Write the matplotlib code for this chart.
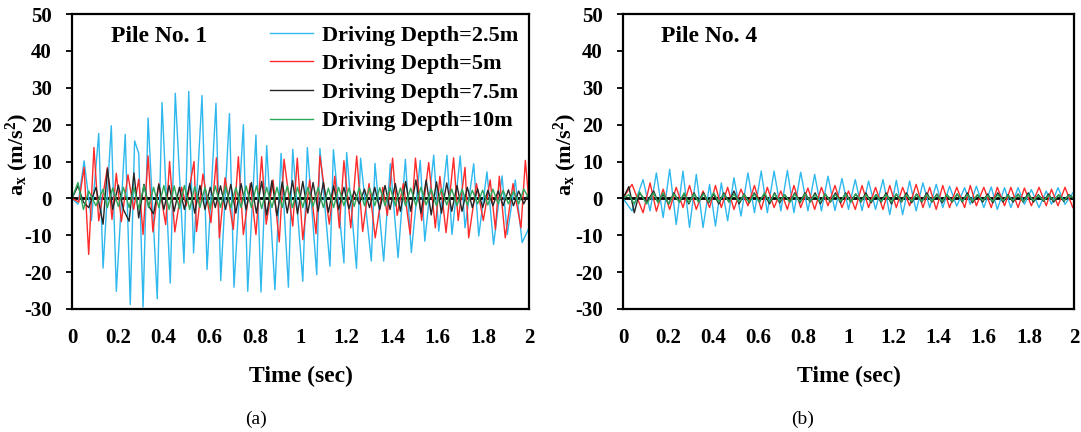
import matplotlib
matplotlib.use("Agg")
import matplotlib.pyplot as plt

# ---- data ----
legend_labels = ["Driving Depth=2.5m", "Driving Depth=5m",
                 "Driving Depth=7.5m", "Driving Depth=10m"]
x_ticks = [0, 0.2, 0.4, 0.6, 0.8, 1, 1.2, 1.4, 1.6, 1.8, 2]
x_tick_labels = ["0", "0.2", "0.4", "0.6", "0.8", "1", "1.2", "1.4", "1.6", "1.8", "2"]
y_ticks = [-30, -20, -10, 0, 10, 20, 30, 40, 50]

# Pile No. 1, 2.5 m
t1_blue = [0.000, 0.026, 0.053, 0.085, 0.117, 0.136, 0.172, 0.194, 0.233, 0.255,
           0.274, 0.292, 0.311, 0.333, 0.373, 0.394, 0.430, 0.452, 0.490, 0.511,
           0.532, 0.569, 0.591, 0.630, 0.651, 0.689, 0.709, 0.750, 0.769, 0.805,
           0.827, 0.852, 0.888, 0.915, 0.947, 0.966, 1.010, 1.030, 1.071, 1.085,
           1.129, 1.144, 1.190, 1.202, 1.245, 1.263, 1.310, 1.326, 1.364, 1.393,
           1.427, 1.459, 1.485, 1.524, 1.544, 1.583, 1.605, 1.641, 1.663, 1.699,
           1.720, 1.758, 1.780, 1.816, 1.845, 1.882, 1.905, 1.940, 1.970, 2.000]
a1_blue = [0, -1.6, 10.2, -6.0, 17.6, -18.9, 19.7, -25.2, 17.4, -28.8,
           15.6, 12.2, -29.5, 21.8, -27.2, 26.0, -23.0, 28.5, -17.5, 29.0,
           -14.8, 27.9, -19.3, 25.8, -22.3, 23.0, -24.1, 20.0, -25.2, 17.2,
           -25.4, 14.3, -24.8, 12.2, -24.1, 13.3, -22.5, 13.8, -20.7, 13.5,
           -18.4, 13.2, -17.5, 12.4, -19.0, 10.9, -17.0, 9.5, -17.0, 9.4,
           -16.1, 10.6, -14.7, 10.3, -11.6, 11.7, -8.9, 11.7, -9.8, 11.5,
           -8.0, 9.4, -10.2, 7.2, -12.5, 6.1, -9.8, 5.0, -12.0, -8.0]

# Pile No. 1, 5 m
t1_red = [0.000, 0.030, 0.053, 0.073, 0.096, 0.117, 0.155, 0.175, 0.194, 0.216,
          0.245, 0.270, 0.292, 0.311, 0.333, 0.354, 0.380, 0.410, 0.427, 0.450,
          0.480, 0.500, 0.534, 0.545, 0.573, 0.608, 0.632, 0.645, 0.670, 0.706,
          0.728, 0.750, 0.780, 0.805, 0.830, 0.850, 0.880, 0.907, 0.928, 0.966,
          0.986, 1.010, 1.040, 1.068, 1.085, 1.126, 1.150, 1.170, 1.190, 1.220,
          1.246, 1.272, 1.300, 1.327, 1.360, 1.380, 1.403, 1.423, 1.450, 1.480,
          1.503, 1.530, 1.561, 1.590, 1.610, 1.637, 1.670, 1.690, 1.720, 1.736,
          1.770, 1.800, 1.830, 1.853, 1.870, 1.896, 1.930, 1.965, 1.984, 2.000]
a1_red = [0, -1.0, 8.4, -15.2, 13.8, -6.1, 8.4, -5.7, 6.8, -6.3,
          6.4, -3.0, 5.2, -9.8, 11.5, -9.1, 4.0, -7.1, 10.0, -9.1,
          3.0, -2.0, 10.0, -9.0, 6.6, -6.6, 11.0, -10.7, 5.6, -8.4,
          11.3, -9.8, 4.0, -9.8, 11.3, -7.0, 5.0, -11.8, 10.6, -7.5,
          10.9, -11.2, 5.0, -9.6, 11.5, -7.0, 6.0, -8.0, 10.2, -8.0,
          11.5, -9.0, 4.0, -10.7, 3.0, -4.6, 10.9, -4.6, 4.0, -9.8,
          10.9, -6.0, 9.7, -8.0, 6.0, -9.3, 11.0, -6.0, 8.4, -10.7,
          4.0, -6.0, 5.0, -8.4, 6.0, -10.7, 4.0, -8.0, 10.3, -1.0]

# shared time samples for the 7.5 m and 10 m records
t_fast = [0.000, 0.026, 0.050, 0.073, 0.105, 0.136, 0.155, 0.178, 0.203, 0.225,
          0.250, 0.271, 0.292, 0.315, 0.335, 0.357, 0.380, 0.402, 0.425, 0.447,
          0.470, 0.492, 0.515, 0.537, 0.560, 0.582, 0.605, 0.627, 0.650, 0.672,
          0.695, 0.717, 0.740, 0.762, 0.785, 0.807, 0.830, 0.852, 0.875, 0.897,
          0.920, 0.942, 0.965, 0.987, 1.010, 1.032, 1.055, 1.077, 1.100, 1.122,
          1.145, 1.167, 1.190, 1.212, 1.235, 1.257, 1.280, 1.302, 1.325, 1.347,
          1.370, 1.392, 1.415, 1.437, 1.460, 1.482, 1.505, 1.527, 1.550, 1.572,
          1.595, 1.617, 1.640, 1.662, 1.685, 1.707, 1.730, 1.752, 1.775, 1.797,
          1.820, 1.842, 1.865, 1.887, 1.910, 1.932, 1.955, 1.977, 2.000]

a1_black = [0, 3.4, -1.0, -2.5, 3.0, -7.0, 8.0, -3.0, 3.6, -3.0,
            -6.2, 6.9, -5.3, 3.8, -2.0, -4.2, 3.8, -3.0, 3.5, -3.5,
            3.0, -3.0, 4.0, -4.0, 3.5, -3.0, 3.0, -2.5, 3.4, -3.0,
            3.8, -4.0, 4.0, -3.0, 4.3, -4.0, 4.6, -4.5, 4.8, -4.7,
            4.5, -4.0, 4.8, -4.2, 4.6, -4.0, 4.3, -3.5, 4.3, -3.8,
            3.4, -3.0, 3.0, -2.8, 2.0, -1.5, 2.5, -2.5, 3.0, -3.0,
            3.5, -3.0, 4.0, -3.5, 4.6, -3.5, 5.0, -4.0, 5.0, -4.5,
            4.5, -4.0, 4.2, -3.5, 3.5, -3.5, 3.0, -2.5, 2.6, -2.5,
            2.2, -2.0, 2.0, -2.0, 2.3, -2.0, 2.0, -1.5, 1.5]

a1_green = [0, 4.3, -3.0, 2.0, -2.0, 2.5, -2.5, 2.8, -2.2, 3.0,
            -2.5, 3.0, -2.8, 3.5, -2.5, 3.0, -2.5, 3.5, -3.0, 3.4,
            -2.8, 3.5, -3.0, 3.2, -2.5, 3.0, -2.8, 3.4, -2.5, 3.4,
            -2.5, 3.0, -2.5, 3.4, -2.5, 3.4, -2.8, 3.0, -2.5, 3.0,
            -2.5, 3.4, -2.5, 3.0, -2.5, 3.0, -2.2, 3.0, -2.5, 2.8,
            -2.5, 3.0, -2.0, 2.8, -2.2, 3.0, -2.0, 2.9, -2.0, 2.9,
            -2.0, 3.0, -2.0, 2.8, -2.0, 2.8, -2.0, 3.0, -1.8, 2.5,
            -2.0, 2.6, -1.8, 2.5, -2.0, 2.5, -1.8, 2.2, -1.5, 2.2,
            -1.8, 2.5, -1.5, 2.2, -1.5, 2.0, -1.5, 2.5, 0]

# Pile No. 4, 2.5 m and 5 m share one time base
t4 = [0.000, 0.040, 0.089, 0.120, 0.148, 0.178, 0.207, 0.236, 0.266, 0.295,
      0.325, 0.355, 0.384, 0.410, 0.436, 0.464, 0.492, 0.523, 0.554, 0.583,
      0.613, 0.640, 0.670, 0.700, 0.729, 0.758, 0.788, 0.820, 0.850, 0.880,
      0.909, 0.940, 0.971, 1.000, 1.030, 1.060, 1.089, 1.120, 1.153, 1.183,
      1.212, 1.240, 1.271, 1.300, 1.330, 1.360, 1.389, 1.418, 1.448, 1.480,
      1.515, 1.540, 1.567, 1.600, 1.633, 1.660, 1.692, 1.720, 1.752, 1.780,
      1.811, 1.845, 1.877, 1.900, 1.929, 1.960, 1.995]
a4_blue = [0, -3.4, 5.1, -3.4, 6.9, -5.2, 7.9, -7.1, 7.4, -7.9,
           6.5, -7.9, 3.8, -7.5, 4.2, -6.1, 5.6, -4.8, 6.9, -3.9,
           7.4, -3.9, 7.4, -3.4, 7.6, -3.9, 7.1, -3.4, 6.5, -3.4,
           6.0, -3.3, 5.4, -3.0, 5.1, -3.3, 4.7, -3.0, 5.1, -4.4,
           4.9, -4.4, 4.7, -3.4, 4.2, -2.5, 3.8, -2.5, 3.3, -2.1,
           2.9, -1.6, 3.3, -2.5, 3.1, -3.0, 2.9, -2.5, 2.9, -1.6,
           2.4, -2.5, 2.0, -1.6, 2.9, -1.6, 1.5]
a4_red = [0, 3.8, -3.9, 4.2, -3.5, 2.5, -3.0, 3.0, -2.5, 3.5,
          -3.0, 2.0, -2.5, 3.5, -2.5, 3.0, -3.0, 2.5, -2.0, 3.5,
          -3.0, 3.0, -2.5, 2.0, -3.0, 3.5, -2.5, 2.8, -3.0, 3.0,
          -2.0, 3.5, -2.5, 2.0, -3.0, 3.5, -2.5, 3.0, -3.0, 3.5,
          -2.5, 3.0, -2.0, 3.8, -2.5, 3.0, -3.0, 3.5, -2.5, 3.0,
          -2.5, 3.5, -2.0, 3.0, -2.5, 3.0, -2.0, 3.0, -2.5, 2.8,
          -2.0, 3.0, -2.0, 2.5, -2.0, 3.0, -2.5]
a4_black = [0, 3.2, -3.9, 1.5, -1.0, 2.0, -1.0, 1.0, -1.5, 1.5,
            -1.0, 1.2, -1.5, 1.5, -1.0, 1.5, -1.2, 1.2, -1.5, 1.5,
            -1.0, 2.0, -1.5, 1.2, -1.2, 1.5, -1.0, 1.2, -1.5, 1.5,
            -1.2, 1.0, -1.0, 1.5, -1.2, 1.5, -1.0, 1.5, -1.5, 1.2,
            -1.0, 1.5, -1.2, 1.5, -1.0, 1.2, -1.0, 1.5, -1.2, 1.0,
            -1.0, 1.5, -1.5, 1.2, -1.0, 1.5, -1.2, 1.2, -1.0, 1.5,
            -1.0, 1.2, -1.2, 1.0, -1.0, 1.2, -1.0, 1.5, -1.2, 1.0,
            -1.0, 1.2, -1.2, 1.5, -1.0, 1.0, -1.0, 1.2, -1.0, 1.5,
            -1.0, 1.0, -0.8, 1.2, -1.0, 1.0, -0.8, 1.0, 0]
a4_green = [0, 1.0, -1.5, 1.8, -1.5, 1.5, -1.2, 1.5, -1.5, 1.2,
            -1.0, 1.5, -1.2, 1.2, -1.0, 1.2, -1.0, 1.5, -1.0, 1.2,
            -1.0, 1.2, -1.0, 1.0, -1.0, 1.2, -1.0, 1.5, -1.0, 1.2,
            -0.8, 1.0, -1.0, 1.2, -1.0, 1.2, -0.8, 1.0, -1.0, 1.2,
            -0.8, 1.0, -0.8, 1.2, -1.0, 1.2, -0.8, 1.0, -0.8, 1.0,
            -0.8, 1.0, -1.0, 1.2, -0.8, 1.0, -0.8, 1.0, -0.8, 1.0,
            -0.8, 1.0, -0.8, 1.0, -0.8, 1.2, -0.8, 1.0, -0.8, 1.0,
            -0.6, 0.8, -0.8, 1.0, -0.6, 0.8, -0.6, 1.0, -0.8, 1.0,
            -0.6, 0.8, -0.6, 0.8, -0.6, 1.0, -0.6, 0.8, 0]

colors = ["#2EB8EE", "#FF2A2A", "#262626", "#2BA85A"]

plt.rcParams['font.family'] = ['Liberation Serif', 'DejaVu Serif']
plt.rcParams['font.weight'] = 'bold'
plt.rcParams['axes.unicode_minus'] = False
plt.rcParams['mathtext.fontset'] = 'custom'
plt.rcParams['mathtext.rm'] = 'Liberation Serif:bold'
plt.rcParams['mathtext.it'] = 'Liberation Serif:bold'
plt.rcParams['mathtext.bf'] = 'Liberation Serif:bold'

W, H = 1081, 432
fig = plt.figure(figsize=(W / 100, H / 100), dpi=100)
ax1 = fig.add_axes([72 / W, 1 - 309 / H, 457 / W, 295 / H])
ax2 = fig.add_axes([623 / W, 1 - 309 / H, 451 / W, 295 / H])

panels = [
    (ax1, "Pile No. 1", [(t1_blue, a1_blue), (t1_red, a1_red),
                         (t_fast, a1_black), (t_fast, a1_green)]),
    (ax2, "Pile No. 4", [(t4, a4_blue), (t4, a4_red),
                         (t_fast, a4_black), (t_fast, a4_green)]),
]

for ax, title, series in panels:
    ax.axhline(0, color='black', lw=2.0, zorder=1)
    for (t, a), c, lab in zip(series, colors, legend_labels):
        ax.plot(t, a, color=c, lw=1.0, label=lab, zorder=2)
    ax.set_xlim(0, 2)
    ax.set_ylim(-30, 50)
    ax.set_xticks(x_ticks)
    ax.set_xticklabels(x_tick_labels)
    ax.set_yticks(y_ticks)
    ax.tick_params(axis='x', length=0, pad=14, labelsize=15)
    ax.tick_params(axis='y', direction='out', length=4.5, width=1.3, pad=10, labelsize=15)
    for s in ax.spines.values():
        s.set_linewidth(1.6)
        s.set_color('black')
    ax.set_xlabel("Time (sec)", fontsize=17, fontweight='bold')
    ax.set_ylabel(r"a$_\mathrm{x}$ (m/s$^\mathrm{2}$)", fontsize=16, fontweight='bold')
    ax.text(0.085, 0.925, title, transform=ax.transAxes, fontsize=17,
            fontweight='bold', va='center', ha='left')

# label anchors in figure pixels: x label top edge, y label right edge / centre
for ax, ylab_x in [(ax1, 31), (ax2, 579)]:
    bb = ax.get_position()
    ax.xaxis.set_label_coords(0.5, (1 - 366 / H - bb.y0) / bb.height)
    ax.yaxis.set_label_coords((ylab_x / W - bb.x0) / bb.width,
                              (1 - 155 / H - bb.y0) / bb.height)

ax1.legend(loc='upper right', bbox_to_anchor=(1.0, 1.0), frameon=False,
           prop={'size': 16, 'weight': 'bold'}, handlelength=1.9,
           handletextpad=0.4, labelspacing=0.36, borderaxespad=0.2,
           borderpad=0.3)

fig.text(256 / W, 1 - 419 / H, "(a)", fontsize=14, fontweight='normal',
         ha='center', va='center')
fig.text(803 / W, 1 - 419 / H, "(b)", fontsize=14, fontweight='normal',
         ha='center', va='center')

fig.savefig("out.png", dpi=100, facecolor='white')
